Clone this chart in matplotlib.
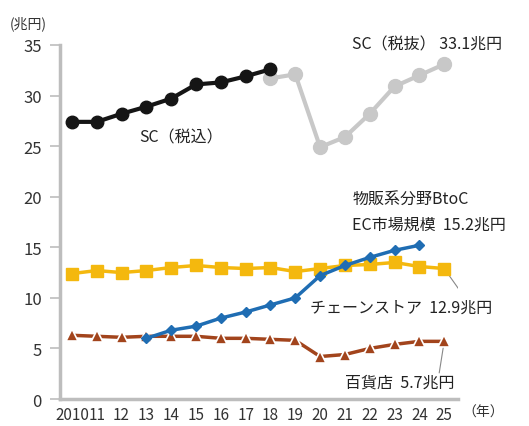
import matplotlib.pyplot as plt

plt.rcParams['font.family'] = ['Noto Sans CJK JP', 'DejaVu Sans']

# data (兆円)
years_all = list(range(2010, 2026))
xticklabels = ['2010'] + [str(y % 100) for y in range(2011, 2026)]

sc_in_years = list(range(2010, 2019))
sc_in = [27.4, 27.4, 28.2, 28.9, 29.7, 31.1, 31.3, 31.9, 32.6]

sc_ex_years = list(range(2018, 2026))
sc_ex = [31.7, 32.1, 24.9, 25.9, 28.2, 30.9, 32.0, 33.1]

chain = [12.4, 12.7, 12.5, 12.7, 13.0, 13.2, 13.0, 12.9, 13.0,
         12.6, 12.9, 13.2, 13.3, 13.5, 13.1, 12.9]

ec_years = list(range(2013, 2025))
ec = [6.0, 6.8, 7.2, 8.0, 8.6, 9.3, 10.0, 12.2, 13.2, 14.0, 14.7, 15.2]

dept = [6.3, 6.2, 6.1, 6.2, 6.2, 6.2, 6.0, 6.0, 5.9, 5.8,
        4.2, 4.4, 5.0, 5.4, 5.7, 5.7]

fig = plt.figure(figsize=(5.29, 4.27), dpi=100)
ax = fig.add_axes([0.1134, 0.0632, 0.7526, 0.8291])

ax.plot(sc_ex_years, sc_ex, color='#c8c8c8', lw=3, marker='o', ms=10, zorder=2)
ax.plot(sc_in_years, sc_in, color='#151515', lw=3, marker='o', ms=9, zorder=3)
ax.plot(years_all, dept, color='#a2441c', lw=2.5, marker='^', ms=9,
        mec='white', mew=1.2, zorder=3)
ax.plot(years_all, chain, color='#f4b80e', lw=2.5, marker='s', ms=9, zorder=4)
ax.plot(ec_years, ec, color='#1f6db3', lw=2.5, marker='D', ms=5, zorder=5)

# leader lines
ax.plot([2025, 2025.75], [12.9, 10.3], color='#888888', lw=0.8, zorder=1)
ax.plot([2025, 2024.8], [5.7, 2.6], color='#888888', lw=0.8, zorder=1)

ax.set_xlim(2009.52, 2025.56)
ax.set_ylim(0, 35)
ax.set_yticks([0, 5, 10, 15, 20, 25, 30, 35])
ax.set_xticks(years_all)
ax.set_xticklabels(xticklabels)

for s in ['top', 'right']:
    ax.spines[s].set_visible(False)
for s in ['left', 'bottom']:
    ax.spines[s].set_color('#bdbdbd')
    ax.spines[s].set_linewidth(2.5)
ax.tick_params(axis='y', length=7, width=1.2, color='#bdbdbd', pad=6,
               labelsize=12, labelcolor='#333333')
ax.tick_params(axis='x', length=0, pad=5, labelsize=11, labelcolor='#333333')

tc = '#222222'
fs = 11.5
ax.text(2014.4, 25.9, 'SC（税込）', ha='center', va='center', fontsize=fs, color=tc)
ax.text(2021.3, 35.1, 'SC（税抜） 33.1兆円', ha='left', va='center', fontsize=fs,
        color=tc, clip_on=False)
ax.text(2021.3, 19.8, '物販系分野BtoC', ha='left', va='center', fontsize=fs, color=tc)
ax.text(2021.3, 17.3, 'EC市場規模  15.2兆円', ha='left', va='center', fontsize=fs,
        color=tc, clip_on=False)
ax.text(2019.6, 9.1, 'チェーンストア  12.9兆円', ha='left', va='center', fontsize=fs,
        color=tc, clip_on=False)
ax.text(2021.0, 1.7, '百貨店  5.7兆円', ha='left', va='center', fontsize=fs, color=tc)

fig.text(10 / 529, 1 - 24 / 427, '(兆円)', ha='left', va='center', fontsize=10, color='#333333')
fig.text(462 / 529, 1 - 413 / 427, '（年）', ha='left', va='center', fontsize=10, color='#333333')

fig.savefig('out.png', dpi=100)
